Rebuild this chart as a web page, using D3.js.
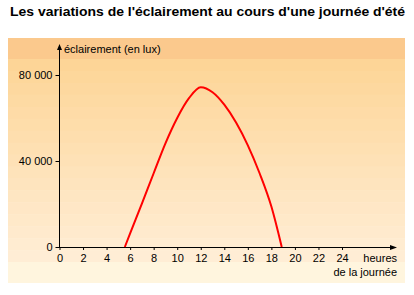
<!DOCTYPE html>
<html>
<head>
<meta charset="utf-8">
<script src="https://cdn.jsdelivr.net/npm/d3@7"></script>
<style>
  body { margin: 0; background: #fff; }
  svg { display: block; font-family: "Liberation Sans", Arial, sans-serif; }
</style>
</head>
<body>
<svg width="414" height="295"></svg>
<script>
// heures de la journée et éclairement (lux)
var hours = [5.55, 6, 7, 8, 9, 10, 11, 12, 13, 14, 15, 16, 17, 18, 18.88]
var lux = [0, 6300, 20200, 34300, 48200, 60000, 69200, 74300, 72000, 66200, 57900, 47300, 34300, 18800, 0]

var xTicks = [0, 2, 4, 6, 8, 10, 12, 14, 16, 18, 20, 22, 24]
var yTicks = [0, 40000, 80000]
var yTickLabels = ["0", "40 000", "80 000"]

var title = "Les variations de l'éclairement au cours d'une journée d'été"
var yLabel = "éclairement (en lux)"
var xLabel = ["heures", "de la journée"]

var data = hours.map((h, i) => ({h: h, v: lux[i]}))

var svg = d3.select("svg")

// fond en bandes
var panel = {x: 8, y: 38, w: 397, h: 245}
svg.append("rect")
    .attr("x", panel.x).attr("y", panel.y)
    .attr("width", panel.w).attr("height", 21)
    .attr("fill", "#fbc98d")
var nBands = 17
var bandH = (262 - 59) / nBands
var bandColor = d3.interpolateRgb("#fdd597", "#ffedd5")
for (var i = 0; i < nBands; i++) {
    svg.append("rect")
        .attr("x", panel.x).attr("y", 59 + i * bandH)
        .attr("width", panel.w).attr("height", bandH + 0.5)
        .attr("fill", bandColor(i / (nBands - 1)))
}
svg.append("rect")
    .attr("x", panel.x).attr("y", 262)
    .attr("width", panel.w).attr("height", 21)
    .attr("fill", "#fff5de")

// titre
svg.append("text")
    .attr("x", 10).attr("y", 16)
    .attr("textLength", 395)
    .attr("lengthAdjust", "spacingAndGlyphs")
    .style("font-size", "13px")
    .style("font-weight", "bold")
    .text(title)

var x = d3.scaleLinear().domain([0, 24]).range([59.5, 342])
var y = d3.scaleLinear().domain([0, 80000]).range([247, 75])

// axes
var xAxis = svg.append("g")
    .attr("transform", "translate(0,247)")
    .call(d3.axisBottom(x).tickValues(xTicks).tickSizeInner(3).tickSizeOuter(0).tickPadding(4))
xAxis.select(".domain").remove()
xAxis.selectAll("text").style("font-size", "11px").attr("fill", "#000").style("font-family", "inherit")
xAxis.selectAll("line").attr("stroke", "#000")

var yAxis = svg.append("g")
    .attr("transform", "translate(59.5,0)")
    .call(d3.axisLeft(y).tickValues(yTicks).tickFormat((d, i) => yTickLabels[i]).tickSizeInner(4).tickSizeOuter(0).tickPadding(3))
yAxis.select(".domain").remove()
yAxis.selectAll("text").style("font-size", "11px").attr("fill", "#000").style("font-family", "inherit")
yAxis.selectAll("line").attr("stroke", "#000")

// lignes d'axes avec flèches
svg.append("line")
    .attr("x1", 59.5).attr("x2", 59.5).attr("y1", 247.5).attr("y2", 47)
    .attr("stroke", "#000")
svg.append("path")
    .attr("d", "M57,50 L62,50 L59.5,44 Z")
    .attr("fill", "#000")
svg.append("line")
    .attr("x1", 59).attr("x2", 392).attr("y1", 247.5).attr("y2", 247.5)
    .attr("stroke", "#000")
svg.append("path")
    .attr("d", "M390,245 L390,250 L397,247.5 Z")
    .attr("fill", "#000")

// titres des axes
svg.append("text")
    .attr("x", 64).attr("y", 53)
    .style("font-size", "11px")
    .text(yLabel)
svg.selectAll(".xlab")
    .data(xLabel)
    .enter()
    .append("text")
    .attr("class", "xlab")
    .attr("x", 397)
    .attr("y", (d, i) => 262 + i * 14)
    .attr("text-anchor", "end")
    .style("font-size", "11px")
    .text(d => d)

// courbe
var line = d3.line()
    .x(d => x(d.h))
    .y(d => y(d.v))
    .curve(d3.curveMonotoneX)

svg.append("path")
    .datum(data)
    .attr("d", line)
    .attr("fill", "none")
    .attr("stroke", "#ff0000")
    .attr("stroke-width", 2)
</script>
</body>
</html>
